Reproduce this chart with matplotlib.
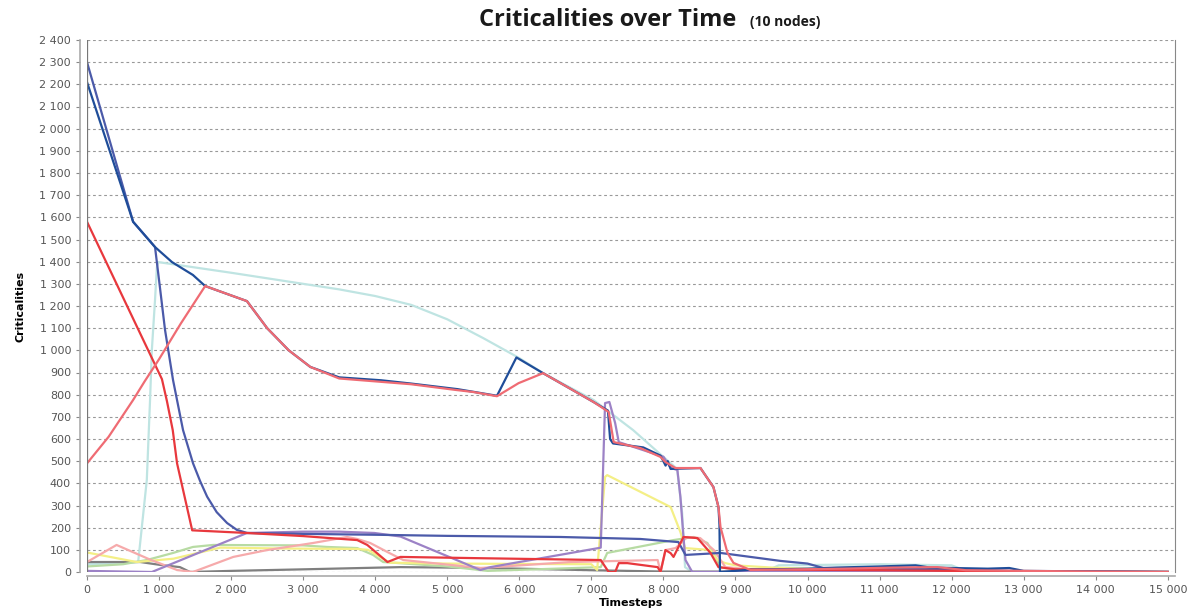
import matplotlib
matplotlib.use("Agg")
from matplotlib import pyplot as plt
from matplotlib.ticker import FuncFormatter, MultipleLocator

# series (timestep, criticality)
navy_t = [0, 640, 944, 1180, 1470, 1640, 2220, 2500, 2800, 3100, 3500, 4080, 4500, 5140, 5690, 5960,
          6330, 7030, 7230, 7260, 7300, 7720, 7960, 8030, 8060, 8100, 8514, 8694, 8764, 8778, 8785,
          9200, 10000, 10400, 11000, 11500, 11700, 12000, 12500, 12800, 13000, 15000]
navy_v = [2210, 1580, 1466, 1398, 1340, 1290, 1222, 1100, 1000, 925, 878, 865, 850, 825, 795, 968,
          897, 767, 728, 600, 580, 562, 525, 480, 500, 465, 469, 383, 293, 212, 0,
          10, 15, 20, 25, 30, 20, 18, 15, 18, 5, 0]

slate_t = [0, 640, 944, 1010, 1083, 1194, 1333, 1472, 1570, 1667, 1800, 1944, 2080, 2222, 3000, 4000,
           5000, 6570, 7680, 8208, 8306, 8792, 9625, 10000, 10220, 11000, 12000, 12500, 13000, 15000]
slate_v = [2300, 1580, 1466, 1290, 1092, 866, 640, 490, 410, 340, 270, 221, 190, 176, 172, 168,
           163, 158, 149, 135, 77, 86, 50, 38, 18, 15, 12, 8, 3, 0]

red_t = [0, 1040, 1110, 1190, 1250, 1460, 2220, 3000, 3500, 3750, 3890, 4170, 4350, 5500, 7130,
         7240, 7330, 7380, 7500, 7920, 7960, 8028, 8100, 8140, 8278, 8472, 8653, 8764, 9000, 10000,
         11000, 12000, 13000, 15000]
red_v = [1580, 870, 770, 640, 490, 188, 176, 162, 150, 144, 122, 45, 68, 62, 54,
         0, 0, 40, 40, 22, 0, 99, 85, 68, 158, 153, 86, 22, 12, 10, 8, 5, 2, 0]

pink_t = [0, 300, 640, 800, 1000, 1300, 1640, 2220, 2500, 2800, 3100, 3500, 4000, 4500, 5100, 5360,
          5690, 5990, 6330, 7030, 7240, 7310, 7680, 7960, 8028, 8167, 8514, 8694, 8764, 8792, 8889,
          8972, 9208, 10500, 11200, 11800, 12200, 13000, 14000, 15000]
pink_v = [490, 610, 776, 860, 960, 1120, 1290, 1222, 1100, 1000, 925, 873, 860, 847, 822, 812,
          793, 852, 897, 767, 722, 586, 559, 519, 496, 469, 469, 383, 293, 203, 86,
          41, 9, 15, 20, 22, 8, 5, 2, 0]

cyan_t = [0, 500, 710, 830, 875, 900, 944, 970, 990, 2000, 3000, 3500, 4000, 4500, 5000, 5500, 6000,
          6330, 7030, 7580, 8000, 8190, 8260, 8300, 8400, 9400, 9600, 11000, 12000, 12200, 15000]
cyan_v = [35, 40, 45, 415, 776, 1001, 1227, 1376, 1398, 1350, 1300, 1275, 1245, 1205, 1140, 1055, 965,
          897, 776, 640, 519, 465, 266, 22, 0, 0, 30, 35, 30, 5, 0]

purple_t = [0, 900, 2220, 3000, 3500, 3990, 4350, 5460, 5600, 7100, 7130, 7190, 7250, 7330, 7380,
            8000, 8100, 8194, 8236, 8278, 8306, 8400, 15000]
purple_v = [5, 0, 176, 182, 182, 176, 160, 9, 22, 108, 110, 762, 767, 672, 586,
            520, 470, 460, 338, 158, 54, 0, 0]

yellow_t = [0, 690, 1200, 1850, 2680, 3750, 3900, 4200, 5000, 7000, 7080, 7190, 7220, 8100, 8236,
            8300, 8650, 8750, 8860, 9000, 9500, 10500, 12000, 13000, 15000]
yellow_v = [88, 45, 60, 110, 106, 104, 100, 42, 38, 35, 9, 429, 437, 293, 180,
            108, 99, 54, 40, 30, 20, 10, 5, 2, 0]

green_t = [0, 500, 830, 1195, 1470, 1750, 3000, 3330, 3750, 3970, 4110, 5000, 5560, 6500, 7130, 7220,
           8140, 8420, 8610, 8720, 8790, 9000, 10000, 12000, 15000]
green_v = [25, 35, 54, 86, 113, 122, 120, 113, 108, 77, 45, 25, 5, 15, 22, 86,
           144, 158, 131, 68, 22, 10, 8, 4, 0]

ltpink_t = [0, 410, 875, 1250, 1470, 2030, 2500, 3140, 3610, 3750, 3930, 4170, 4390, 5460, 6710, 7920,
            7960, 8030, 8170, 8330, 8510, 8700, 8860, 9200, 10000, 11000, 12000, 15000]
ltpink_v = [45, 122, 56, 9, 0, 68, 99, 131, 158, 149, 131, 90, 54, 18, 45, 54,
            0, 99, 108, 158, 153, 99, 22, 12, 10, 8, 4, 0]

gray_t = [0, 740, 1015, 1290, 1430, 2000, 3000, 4350, 5000, 6000, 7000, 8000, 15000]
gray_v = [45, 45, 32, 22, 0, 5, 12, 22, 20, 15, 8, 2, 0]

series = [
    (cyan_t, cyan_v, "#bfe4e2"),
    (gray_t, gray_v, "#7f7f7f"),
    (green_t, green_v, "#b7dba3"),
    (yellow_t, yellow_v, "#f4ef86"),
    (ltpink_t, ltpink_v, "#f6aaab"),
    (purple_t, purple_v, "#9c82c6"),
    (slate_t, slate_v, "#4b5aa9"),
    (red_t, red_v, "#e8383d"),
    (navy_t, navy_v, "#1f4d99"),
    (pink_t, pink_v, "#ef6b73"),
]

fig = plt.figure(figsize=(11.92, 6.11), dpi=100)
ax = fig.add_axes([87 / 1192, 1 - 572 / 611, (1175 - 87) / 1192, (572 - 40) / 611])

for t, v, c in series:
    ax.plot(t, v, color=c, lw=1.6, solid_joinstyle="round")

ax.set_xlim(0, 15100)
ax.set_ylim(0, 2400)
ax.xaxis.set_major_locator(MultipleLocator(1000))
ax.yaxis.set_major_locator(MultipleLocator(100))
fmt = FuncFormatter(lambda v, p: f"{int(v):,}".replace(",", " "))
ax.xaxis.set_major_formatter(fmt)
ax.yaxis.set_major_formatter(fmt)
ax.tick_params(colors="#888888", labelcolor="#555555", labelsize=8, length=3, width=0.8)

ax.yaxis.grid(True, linestyle=(0, (2.5, 2.5)), color="#999999", lw=0.8)
ax.set_axisbelow(True)
ax.axvline(0, color="#777777", lw=0.9)

ax.spines["top"].set_visible(False)
ax.spines["right"].set_color("#888888")
ax.spines["left"].set_color("#aaaaaa")
ax.spines["left"].set_linewidth(1.2)
ax.spines["left"].set_position(("outward", 5))
ax.spines["bottom"].set_color("#aaaaaa")
ax.spines["bottom"].set_linewidth(1.2)
ax.spines["bottom"].set_position(("outward", 3))

ax.set_xlabel("Timesteps", fontsize=8, fontweight="bold", labelpad=2)
ax.set_ylabel("Criticalities", fontsize=8, fontweight="bold", labelpad=10)

fig.text(736 / 1192, 1 - 20 / 611, "Criticalities over Time", ha="right", va="center",
         fontsize=17, fontweight="bold", family="Open Sans", color="#1a1a1a")
fig.text(750 / 1192, 1 - 22 / 611, "(10 nodes)", ha="left", va="center",
         fontsize=10, fontweight="bold", family="Open Sans", color="#1a1a1a")

fig.savefig("out.png", dpi=100)
